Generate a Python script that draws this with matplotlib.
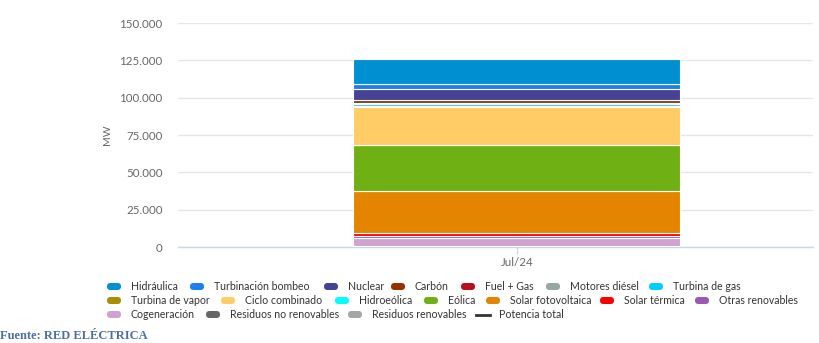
import matplotlib
matplotlib.use("Agg")
import matplotlib.pyplot as plt
from matplotlib.patches import FancyBboxPatch
from matplotlib.ticker import FuncFormatter

# ---- data ----
category = ["Jul/24"]
series_names = ["Hidráulica", "Turbinación bombeo", "Nuclear", "Carbón", "Fuel + Gas",
                "Motores diésel", "Turbina de gas", "Turbina de vapor", "Ciclo combinado",
                "Hidroeólica", "Eólica", "Solar fotovoltaica", "Solar térmica",
                "Otras renovables", "Cogeneración", "Residuos no renovables",
                "Residuos renovables"]
series_values = [16900, 3330, 7120, 1800, 700, 400, 1300, 300, 25600,
                 11, 31000, 28000, 2300, 860, 5600, 420, 160]
series_colors = ["#0090d1", "#1e7ef0", "#464394", "#973200", "#b5121b",
                 "#93a89e", "#00ccff", "#ab8d00", "#ffcc66",
                 "#00ffff", "#6fb114", "#e48500", "#ff0000",
                 "#9b59b6", "#d0a2cf", "#666666", "#a5a5a5"]
total_name = "Potencia total"
total_color = "#333333"
y_ticks = [0, 25000, 50000, 75000, 100000, 125000, 150000]

W, H = 820, 343
fig = plt.figure(figsize=(W / 100, H / 100), dpi=100)
plt.rcParams['font.family'] = ['Lato', 'DejaVu Sans']

# axes in pixel layout
L, R, T, B = 178, 813, 23, 247
ax = fig.add_axes([L / W, 1 - B / H, (R - L) / W, (B - T) / H])

# stacked bar: first series on top -> stack from last
bar_w = 327
bottom = 0
for name, val, col in reversed(list(zip(series_names, series_values, series_colors))):
    ax.bar(0, val, width=bar_w, bottom=bottom, color=col, edgecolor="white",
           linewidth=0.8, zorder=3)
    bottom += val

ax.set_xlim(L - 517, R - 517)
ax.set_ylim(0, 150000)
ax.set_yticks(y_ticks)
ax.yaxis.set_major_formatter(FuncFormatter(lambda v, p: f"{int(v):,}".replace(",", ".")))
ax.set_xticks([0])
ax.set_xticklabels(category)
ax.grid(axis="y", color="#e6e6e6", linewidth=1, zorder=0)
for s in ["top", "right", "left"]:
    ax.spines[s].set_visible(False)
ax.spines["bottom"].set_color("#ccd6eb")
ax.spines["bottom"].set_linewidth(1)
ax.tick_params(axis="y", length=0, pad=11, labelsize=8.3, labelcolor="#666666")
ax.tick_params(axis="x", length=5, width=1, color="#ccd6eb", pad=2,
               labelsize=8.3, labelcolor="#666666")
ax.set_ylabel("MW", fontsize=7.5, color="#666666", labelpad=4)
ax.yaxis.set_label_coords((112 - L) / (R - L), (B - 135) / (B - T))

# ---- legend (manual, Highcharts-like) in a pixel-space overlay ----
ov = fig.add_axes([0, 0, 1, 1], zorder=5)
ov.set_xlim(0, W)
ov.set_ylim(H, 0)
ov.axis("off")

legend_pos = [
    (114, 286.5), (197, 286.5), (331, 286.5), (398, 286.5), (468, 286.5), (553, 286.5), (656, 286.5),
    (114, 300.5), (228, 300.5), (342, 300.5), (431, 300.5), (493, 300.5), (607, 300.5), (702, 300.5),
    (114, 314.5), (213, 314.5), (355, 314.5),
]
for (mx, my), name, col in zip(legend_pos, series_names, series_colors):
    ov.add_patch(FancyBboxPatch((mx - 7, my - 3.5), 14, 7,
                                boxstyle="round,pad=0,rounding_size=3.5",
                                facecolor=col, edgecolor="none"))
    ov.text(mx + 17, my, name, fontsize=7.6, color="#333333", va="center", ha="left")
# total line entry
ov.plot([476, 490], [314.5, 314.5], color=total_color, linewidth=2.0)
ov.text(499, 314.5, total_name, fontsize=7.6, color="#333333", va="center", ha="left")

ov.text(0, 336, "Fuente: RED ELÉCTRICA", fontsize=9, fontweight="bold",
        color="#4a6fa8", family=["Liberation Serif", "DejaVu Serif"], va="center", ha="left")

fig.savefig("out.png", dpi=100)
